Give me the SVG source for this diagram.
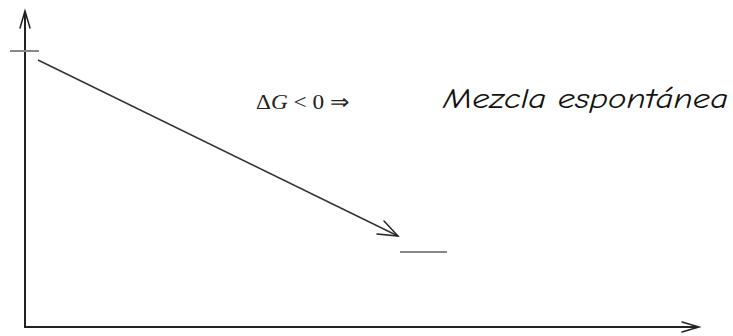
<svg xmlns="http://www.w3.org/2000/svg" width="733" height="336" viewBox="0 0 733 336">
<style>
.ax{stroke:#222;stroke-width:2;fill:none}
.ln{stroke:#333;stroke-width:1.5;fill:none}
.lvl{stroke:#888;stroke-width:2;fill:none}
.hd{stroke:#222;stroke-width:1.5;fill:none;stroke-linecap:round}
</style>
<rect width="733" height="336" fill="#fff"/>
<g id="axes">
<path class="ax" d="M25,12 V327 H698"/>
<path class="hd" d="M20,28 L25,11 L30,28"/>
<path class="hd" d="M682,322 L699,327 L682,332"/>
</g>
<g id="level-high"><line class="lvl" x1="10" y1="51" x2="39" y2="51"/></g>
<g id="level-low"><line class="lvl" x1="400" y1="252" x2="447" y2="252"/></g>
<g id="connectors">
<line class="ln" x1="38" y1="60" x2="398" y2="236"/>
<path class="hd" d="M384,221 L398,236 L377,234"/>
</g>
<g id="labels">
<text x="256" y="109" font-family="Liberation Serif, serif" font-size="21" fill="#222" textLength="94" lengthAdjust="spacingAndGlyphs"><tspan>Δ</tspan><tspan font-style="italic">G</tspan> &lt; 0 ⇒</text>
<text x="443" y="108" font-family="Comic Neue, DejaVu Sans, sans-serif" font-style="italic" font-size="28" fill="#111" textLength="285" lengthAdjust="spacingAndGlyphs">Mezcla espontánea</text>
</g>
</svg>
